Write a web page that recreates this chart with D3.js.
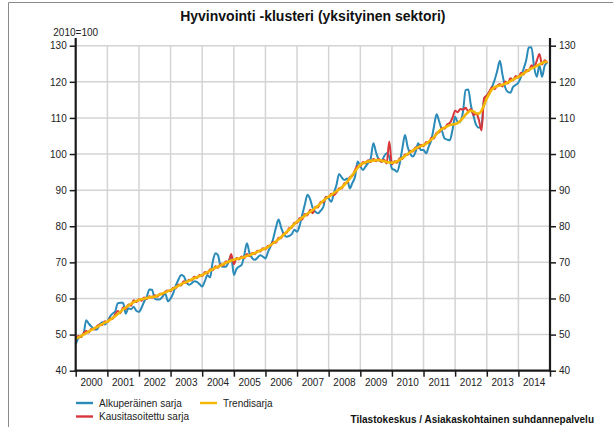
<!DOCTYPE html>
<html>
<head>
<meta charset="utf-8">
<script src="https://cdn.jsdelivr.net/npm/d3@7"></script>
<style>
	body { margin: 0; background: #fff; }
	svg { display: block; font-family: "Liberation Sans", Arial, sans-serif; }
</style>
</head>
<body>
<script>
// monthly index, 2000-01 .. 2014-12
const startYear = 2000;
const yearLabels = ["2000", "2001", "2002", "2003", "2004", "2005", "2006", "2007",
	"2008", "2009", "2010", "2011", "2012", "2013", "2014"];
const yTicks = [40, 50, 60, 70, 80, 90, 100, 110, 120, 130];

// Alkuperäinen sarja
const original = [
	47.3, 49.0, 49.5, 50.2, 54.0, 53.0, 52.2, 51.6, 51.4, 52.6, 53.4, 52.8,
	53.6, 55.0, 55.8, 56.4, 58.7, 58.8, 58.8, 55.8, 57.3, 57.0, 57.7, 56.6,
	56.3, 57.5, 59.1, 60.5, 62.5, 62.4, 60.0, 59.7, 59.8, 60.5, 61.4, 59.2,
	60.0, 61.5, 63.5, 65.2, 66.5, 66.2, 64.6, 63.8, 64.2, 64.8, 64.6, 64.0,
	63.3, 64.8, 66.4, 65.8, 70.0, 72.5, 72.0, 69.0, 68.8, 68.8, 70.2, 71.8,
	66.5, 68.2, 68.8, 69.3, 72.0, 75.3, 72.5, 71.2, 70.7, 71.3, 72.0, 71.6,
	71.1, 73.0, 74.4, 76.6, 79.5, 81.9, 79.6, 77.8, 77.1, 77.3, 77.8, 79.0,
	78.5, 80.3, 83.1, 86.0, 88.7, 87.5, 85.0, 84.0, 83.6, 84.3, 85.4, 88.2,
	87.7, 86.8, 89.1, 91.5, 94.5, 93.5, 92.8, 93.2, 90.5, 92.0, 93.7, 97.9,
	96.5, 95.6, 96.5, 97.5, 98.8, 103.0, 100.5, 98.5, 97.9, 99.3, 100.2, 99.3,
	96.0, 95.6, 95.1, 97.4, 101.5, 105.3, 102.0, 100.0, 99.3, 100.6, 103.0, 101.1,
	101.1, 100.2, 102.0, 103.9, 107.5, 111.0, 109.0, 106.6, 104.3, 104.0, 103.8, 106.6,
	110.3, 108.8, 109.0, 111.7, 117.7, 117.9, 113.5, 110.5, 108.0, 107.3, 108.0, 115.2,
	116.2, 117.2, 118.5, 120.5, 123.0, 125.8, 122.0, 118.5, 117.2, 117.0, 118.6, 119.1,
	119.8, 121.4, 123.5, 126.0, 129.5, 129.6, 124.2, 121.4, 124.6, 121.4, 124.5, 125.3
];

// Kausitasoitettu sarja
const seasonal = [
	48.6, 49.6, 49.3, 50.4, 51.0, 50.6, 51.6, 51.4, 52.3, 52.8, 52.6, 53.7,
	53.4, 54.5, 54.3, 55.6, 56.5, 56.0, 57.5, 57.0, 58.3, 58.0, 59.5, 59.0,
	59.8, 59.4, 60.3, 59.9, 60.6, 60.2, 60.9, 60.5, 61.3, 61.2, 61.9, 62.2,
	62.0, 63.0, 62.8, 63.9, 63.6, 64.8, 64.3, 65.2, 65.0, 66.0, 65.6, 66.5,
	66.2, 67.3, 66.9, 68.1, 67.8, 68.9, 68.5, 69.5, 69.1, 70.3, 70.0, 72.3,
	69.5, 71.2, 70.8, 71.6, 71.2, 72.3, 71.7, 72.6, 72.3, 73.2, 73.0, 73.9,
	73.6, 74.6, 74.5, 75.7, 75.4, 76.8, 76.7, 78.0, 78.1, 79.5, 79.6, 81.0,
	80.9, 82.3, 81.9, 83.4, 83.0, 84.6, 83.6, 85.4, 85.2, 86.8, 86.6, 88.1,
	88.0, 89.0, 88.6, 89.4, 90.5, 90.5, 91.9, 92.0, 93.6, 93.9, 95.6, 96.7,
	96.6, 97.8, 97.4, 98.3, 97.8, 98.6, 98.0, 98.7, 97.8, 98.4, 97.4, 103.5,
	97.2, 98.0, 97.6, 98.8, 98.6, 99.9, 99.7, 100.9, 100.7, 101.9, 101.6, 102.6,
	102.2, 103.3, 103.0, 104.5, 104.3, 105.9, 106.0, 107.3, 107.0, 108.2, 108.6, 110.0,
	112.0, 111.6, 112.5, 112.3, 112.8, 111.8, 112.5, 110.8, 111.2, 109.5, 106.5, 115.5,
	116.2, 117.4, 118.5, 118.0, 118.9, 119.4, 118.7, 120.1, 119.5, 121.0, 120.4, 121.6,
	121.2, 122.5, 122.0, 123.3, 123.0, 124.6, 124.0, 125.8, 127.7, 124.8, 126.0, 125.2
];

// Trendisarja
const trend = [
	48.8, 49.2, 49.6, 50.0, 50.4, 50.9, 51.3, 51.7, 52.1, 52.5, 52.9, 53.3,
	53.6, 54.1, 54.6, 55.1, 55.7, 56.3, 57.0, 57.5, 58.0, 58.5, 59.0, 59.3,
	59.6, 59.8, 59.9, 60.1, 60.3, 60.4, 60.5, 60.8, 61.1, 61.4, 61.7, 62.0,
	62.3, 62.7, 63.1, 63.5, 63.9, 64.3, 64.6, 64.9, 65.3, 65.6, 65.9, 66.2,
	66.5, 66.9, 67.3, 67.7, 68.1, 68.5, 68.8, 69.1, 69.5, 69.9, 70.2, 70.5,
	70.7, 70.9, 71.1, 71.3, 71.5, 71.8, 72.0, 72.3, 72.6, 72.9, 73.3, 73.6,
	73.9, 74.3, 74.8, 75.3, 75.8, 76.4, 77.0, 77.7, 78.4, 79.1, 79.9, 80.6,
	81.3, 81.8, 82.4, 82.9, 83.5, 84.0, 84.5, 85.1, 85.7, 86.4, 87.1, 87.7,
	88.2, 88.7, 89.2, 89.7, 90.2, 90.8, 91.5, 92.3, 93.2, 94.2, 95.2, 96.2,
	97.0, 97.4, 97.7, 97.9, 98.1, 98.2, 98.3, 98.3, 98.2, 98.0, 97.8, 97.7,
	97.6, 97.7, 98.0, 98.4, 98.9, 99.5, 100.0, 100.5, 101.0, 101.5, 101.9, 102.2,
	102.5, 102.9, 103.4, 104.0, 104.7, 105.5, 106.4, 106.9, 107.3, 107.7, 108.0, 108.2,
	108.3, 108.6, 109.2, 110.0, 110.9, 111.6, 112.0, 111.8, 111.3, 111.2, 112.0, 113.6,
	115.4, 116.8, 117.9, 118.5, 118.8, 119.0, 119.2, 119.5, 119.8, 120.2, 120.6, 121.0,
	121.4, 121.8, 122.3, 122.8, 123.3, 123.7, 124.0, 124.4, 124.8, 125.2, 125.5, 125.6
];

(() => {
	let width = 613;
	let height = 427;
	let left = 75.7, right = 550, top = 45.7, bottom = 370.7;

	let svg = d3.select("body").append("svg")
		.attr("width", width)
		.attr("height", height);

	svg.append("rect").attr("width", width).attr("height", height).attr("fill", "#fff");

	// outer frame (only top and left edges show)
	svg.append("path")
		.attr("d", `M8.5,${height}V2.5H${width}`)
		.attr("fill", "none")
		.attr("stroke", "#8a8a8a")
		.attr("stroke-width", 1);

	let x = d3.scaleTime()
		.domain([new Date(startYear, 0, 1), new Date(startYear + yearLabels.length, 0, 1)])
		.range([left, right]);
	let y = d3.scaleLinear().domain([40, 130]).range([bottom, top]);

	let dates = original.map((v, i) => new Date(startYear, i, 1));
	let yearStarts = d3.range(yearLabels.length + 1).map(i => new Date(startYear + i, 0, 1));

	// grid
	svg.append("g").selectAll("line")
		.data(yTicks.filter(d => d > 40))
		.enter().append("line")
		.attr("x1", left).attr("x2", right)
		.attr("y1", d => y(d)).attr("y2", d => y(d))
		.attr("stroke", "#d4d4d4").attr("stroke-width", 1.5);
	svg.append("g").selectAll("line")
		.data(yearStarts.slice(1, -1))
		.enter().append("line")
		.attr("x1", d => x(d)).attr("x2", d => x(d))
		.attr("y1", top).attr("y2", bottom)
		.attr("stroke", "#d4d4d4").attr("stroke-width", 1.5);

	// series
	let series = [
		{values: original, color: "#2a8bb8", w: 2},
		{values: seasonal, color: "#d9363c", w: 2},
		{values: trend, color: "#f3b704", w: 2.6}
	];
	let line = d3.line()
		.x((d, i) => x(dates[i]))
		.y(d => y(d))
		.curve(d3.curveMonotoneX);
	svg.append("g").selectAll("path")
		.data(series)
		.enter().append("path")
		.attr("d", d => line(d.values))
		.attr("fill", "none")
		.attr("stroke", d => d.color)
		.attr("stroke-width", d => d.w)
		.attr("stroke-linejoin", "round");

	// axes
	let axisColor = "#1a1a1a";
	let leftAxis = d3.axisLeft(y).tickValues(yTicks).tickSize(6).tickPadding(3);
	let rightAxis = d3.axisRight(y).tickValues(yTicks).tickSize(6).tickPadding(3);
	let gl = svg.append("g").attr("transform", `translate(${left},0)`).call(leftAxis);
	let gr = svg.append("g").attr("transform", `translate(${right},0)`).call(rightAxis);
	[gl, gr].forEach(g => {
		g.select(".domain").remove();
		g.selectAll("line").attr("stroke", axisColor).attr("stroke-width", 1.5);
		g.selectAll("text").attr("fill", "#222").style("font-size", "10px")
			.style("font-family", "Liberation Sans, Arial, sans-serif");
		g.append("line")
			.attr("y1", bottom + 1).attr("y2", 38)
			.attr("stroke", axisColor).attr("stroke-width", 2.2);
	});

	let xAxis = d3.axisBottom(x).tickValues(yearStarts).tickSize(6).tickFormat("");
	let gx = svg.append("g").attr("transform", `translate(0,${bottom})`).call(xAxis);
	gx.select(".domain").remove();
	gx.selectAll("line").attr("stroke", axisColor).attr("stroke-width", 1.5);
	gx.append("line").attr("x1", left - 1).attr("x2", right + 1)
		.attr("stroke", axisColor).attr("stroke-width", 2.2);
	gx.selectAll(".yl")
		.data(yearLabels)
		.enter().append("text")
		.attr("class", "yl")
		.attr("x", (d, i) => (x(yearStarts[i]) + x(yearStarts[i + 1])) / 2)
		.attr("y", 15.5)
		.attr("text-anchor", "middle")
		.attr("fill", "#222")
		.style("font-size", "10px")
		.text(d => d);

	// texts
	svg.append("text")
		.attr("x", (left + right) / 2).attr("y", 21)
		.attr("text-anchor", "middle")
		.style("font-size", "14px").style("font-weight", "bold")
		.attr("fill", "#111")
		.text("Hyvinvointi -klusteri (yksityinen sektori)");
	svg.append("text")
		.attr("x", left).attr("y", 36)
		.attr("text-anchor", "middle")
		.style("font-size", "10px")
		.attr("fill", "#222")
		.text("2010=100");

	// legend
	let legend = [
		{name: "Alkuperäinen sarja", color: series[0].color, x: 76, y: 403},
		{name: "Kausitasoitettu sarja", color: series[1].color, x: 76, y: 416.5},
		{name: "Trendisarja", color: series[2].color, x: 200, y: 403}
	];
	let lg = svg.append("g").selectAll("g").data(legend).enter().append("g");
	lg.append("line")
		.attr("x1", d => d.x).attr("x2", d => d.x + 17)
		.attr("y1", d => d.y).attr("y2", d => d.y)
		.attr("stroke", d => d.color).attr("stroke-width", 2.4);
	lg.append("text")
		.attr("x", d => d.x + 23).attr("y", d => d.y + 3.5)
		.style("font-size", "10px")
		.attr("fill", "#222")
		.text(d => d.name);

	svg.append("text")
		.attr("x", 594).attr("y", 423)
		.attr("text-anchor", "end")
		.style("font-size", "10px").style("font-weight", "bold")
		.attr("fill", "#111")
		.text("Tilastokeskus / Asiakaskohtainen suhdannepalvelu");
})();
</script>
</body>
</html>
